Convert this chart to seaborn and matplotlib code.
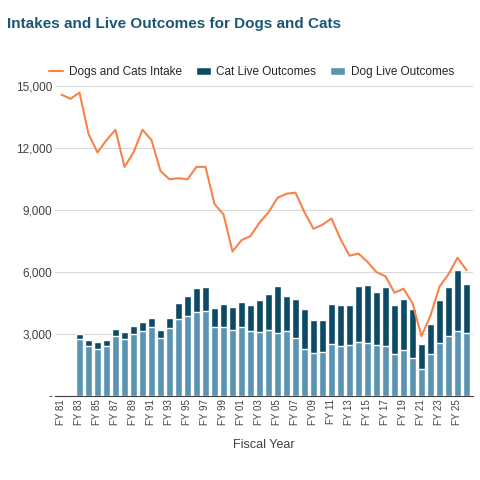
import numpy as np
import pandas as pd
import matplotlib
matplotlib.use("Agg")
import matplotlib.pyplot as plt
import seaborn as sns

years = [f"FY {y % 100:02d}" for y in range(1981, 2027)]
intake = [14.6, 14.4, 14.7, 12.7, 11.8, 12.4, 12.9, 11.1, 11.8, 12.9, 12.4, 10.9, 10.5, 10.55,
          10.5, 11.1, 11.1, 9.3, 8.8, 7.0, 7.55, 7.75, 8.4, 8.9, 9.6, 9.8, 9.85, 8.9, 8.1, 8.3,
          8.6, 7.6, 6.8, 6.9, 6.5, 6.0, 5.8, 5.0, 5.2, 4.5, 2.9, 3.9, 5.3, 5.9, 6.7, 6.1]
# live outcomes start in FY 83
total_live = [3.0, 2.7, 2.6, 2.7, 3.25, 3.1, 3.4, 3.6, 3.8, 3.2, 3.8, 4.5, 4.85, 5.25, 5.3, 4.25,
              4.45, 4.3, 4.55, 4.4, 4.65, 4.95, 5.35, 4.85, 4.7, 4.2, 3.7, 3.7, 4.45, 4.4, 4.4,
              5.35, 5.4, 5.05, 5.3, 4.4, 4.7, 4.2, 2.5, 3.5, 4.65, 5.3, 6.1, 5.45]
dog_live = [2.75, 2.4, 2.3, 2.4, 2.9, 2.75, 3.0, 3.15, 3.35, 2.8, 3.3, 3.75, 3.9, 4.05, 4.1, 3.35,
            3.35, 3.2, 3.35, 3.15, 3.1, 3.2, 3.05, 3.15, 2.8, 2.3, 2.1, 2.15, 2.5, 2.4, 2.45,
            2.6, 2.55, 2.45, 2.4, 2.05, 2.25, 1.85, 1.3, 2.05, 2.55, 2.9, 3.15, 3.05]

CAT_COLOR = "#0d4a64"
DOG_COLOR = "#5b93b2"
LINE_COLOR = "#f7834a"

sns.set_theme(style="white")
plt.rcParams["font.family"] = ["Liberation Sans", "DejaVu Sans"]

bars = pd.DataFrame({"year": years[2:],
                     "total": np.array(total_live) * 1000,
                     "dog": np.array(dog_live) * 1000})

fig, ax = plt.subplots(figsize=(4.8, 4.8), dpi=100)
ax.yaxis.grid(True, color="#d9d9d9", linewidth=0.8)
ax.set_axisbelow(True)

sns.barplot(data=bars, x="year", y="total", order=years, color=CAT_COLOR,
            width=0.7, saturation=1, ax=ax, label="Cat Live Outcomes")
sns.barplot(data=bars, x="year", y="dog", order=years, color=DOG_COLOR,
            width=0.7, saturation=1, ax=ax, label="Dog Live Outcomes")
sns.lineplot(x=np.arange(len(years)), y=np.array(intake) * 1000, color=LINE_COLOR,
             linewidth=1.5, ax=ax, label="Dogs and Cats Intake")

ax.set_ylim(0, 15000)
ax.set_yticks(range(0, 15001, 3000))
ax.set_yticklabels(["-"] + [f"{v:,}" for v in range(3000, 15001, 3000)], fontsize=8.5, color="#404040")
ax.set_xlim(-0.7, len(years) - 0.3)
ax.set_xticks(range(0, len(years), 2))
ax.set_xticklabels(years[::2], rotation=90, fontsize=7, color="#404040")
ax.tick_params(axis="both", length=0, pad=2)
ax.set_xlabel("Fiscal Year", fontsize=9, color="#404040", labelpad=10)
ax.set_ylabel("")
for s in ["top", "right", "left"]:
    ax.spines[s].set_visible(False)
ax.spines["bottom"].set_color("#404040")
ax.spines["bottom"].set_linewidth(0.8)

h, l = ax.get_legend_handles_labels()
order = [l.index(n) for n in ["Dogs and Cats Intake", "Cat Live Outcomes", "Dog Live Outcomes"]]
ax.legend([h[i] for i in order], [l[i] for i in order], loc="lower center",
          bbox_to_anchor=(0.47, 1.0), ncol=3, frameon=False, fontsize=8.5,
          handlelength=1.2, columnspacing=1.2, handletextpad=0.5, borderaxespad=0.3)

fig.text(0.015, 0.965, "Intakes and Live Outcomes for Dogs and Cats", fontsize=11,
         fontweight="bold", color="#1a5774", va="top")
fig.subplots_adjust(left=0.115, right=0.985, top=0.82, bottom=0.175)
fig.savefig("out.png", dpi=100)
